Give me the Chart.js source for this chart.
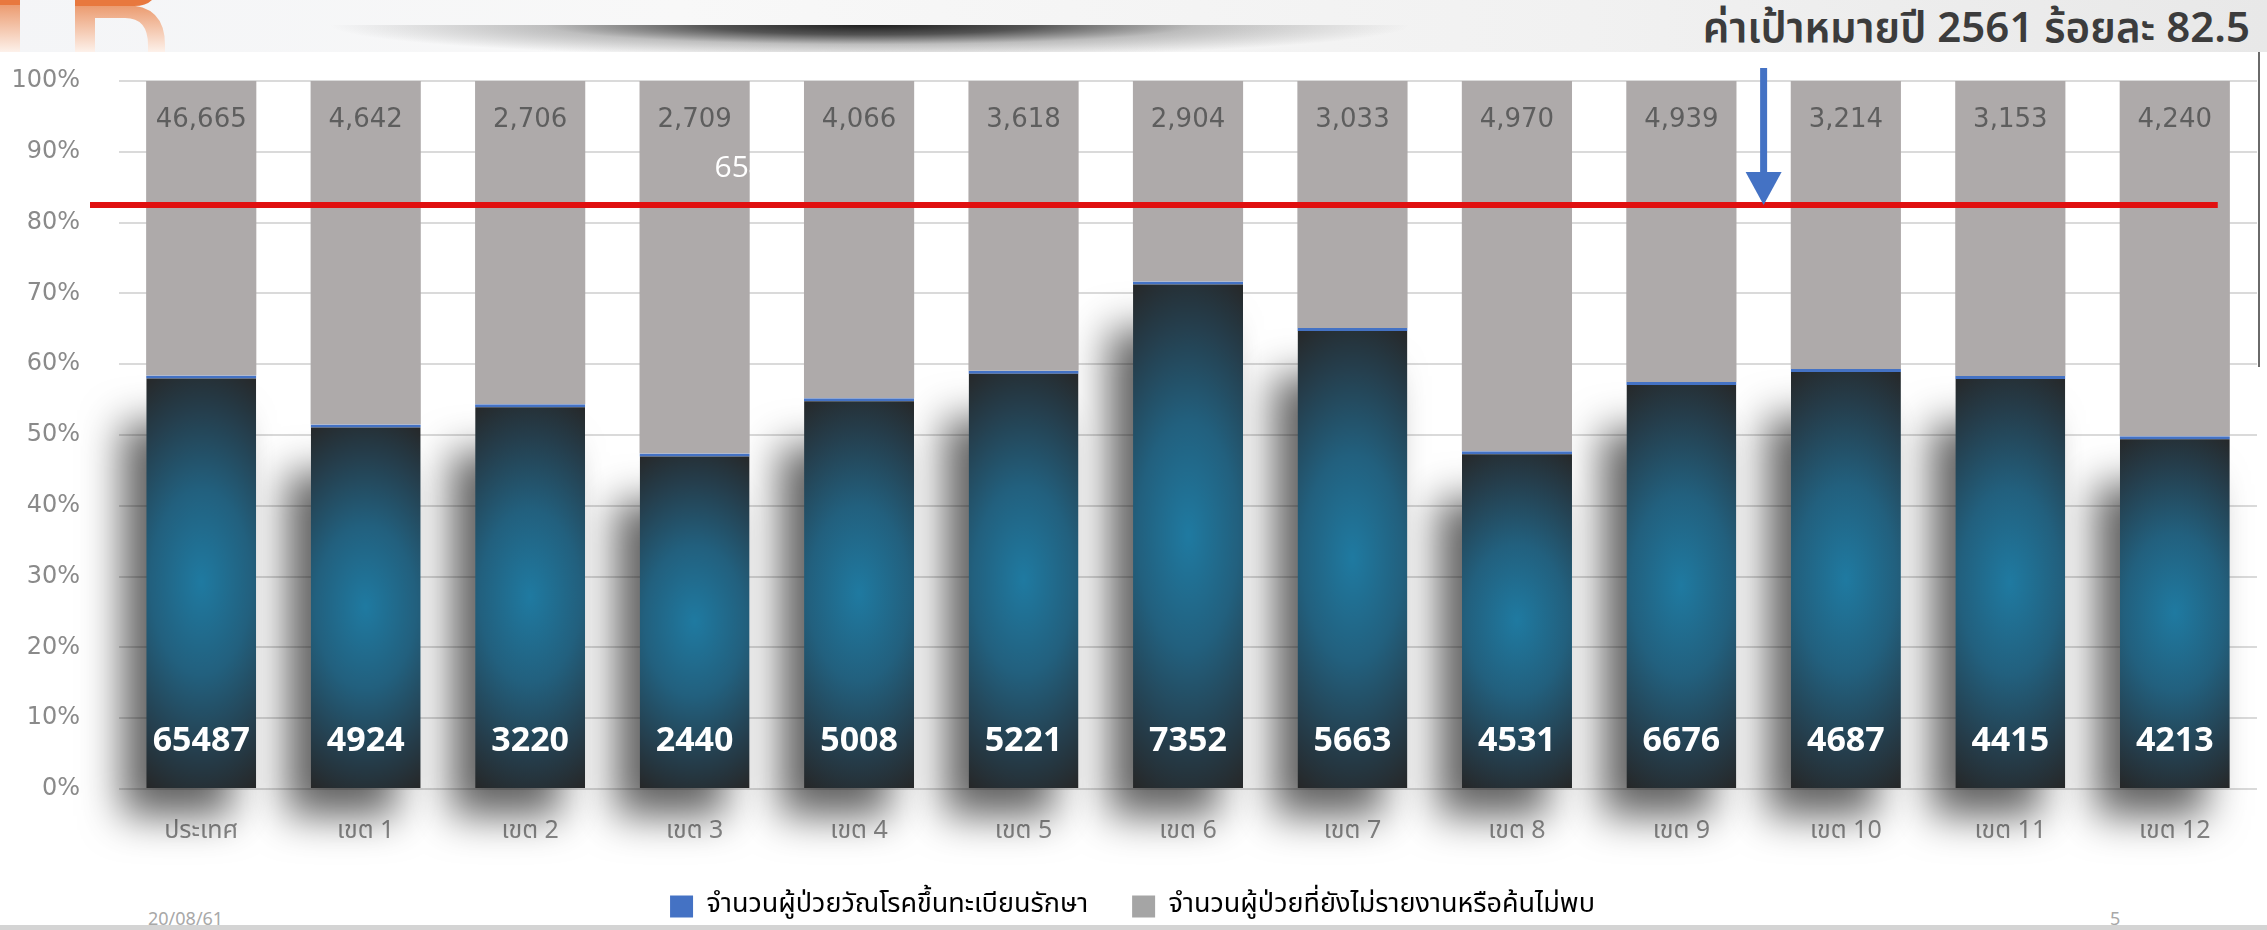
<!DOCTYPE html>
<html lang="th">
<head>
<meta charset="utf-8">
<title>ผู้ป่วยวัณโรคขึ้นทะเบียนรักษา</title>
<script src="https://cdn.jsdelivr.net/npm/chart.js@4.4.1/dist/chart.umd.min.js"></script>
<style>
  html, body { margin: 0; padding: 0; }
  body { width: 2267px; height: 930px; position: relative; overflow: hidden; background: #fff;
         font-family: 'Noto Sans Thai', 'Noto Sans', Tahoma, sans-serif; }
  #header { position: absolute; left: 0; top: 0; width: 2267px; height: 52px;
            background: linear-gradient(to right, #f4f5f7 0%, #f8f8f8 30%, #f1f1f1 70%, #e8e8e8 100%); }
  #swoosh { position: absolute; left: 330px; top: 25px; width: 1080px; height: 27px;
            background: radial-gradient(ellipse 50% 120% at 50% 0%, rgba(30,30,30,1) 0%, rgba(55,55,55,0.85) 30%, rgba(120,120,120,0.45) 60%, rgba(255,255,255,0) 100%); }
  #logo { position: absolute; left: 0; top: 0; }
  #target { position: absolute; right: 17px; top: 0; height: 58px; line-height: 58px; font-size: 42px;
            font-weight: 600; color: #3c3c3c; white-space: nowrap; }
  #cut { position: absolute; left: 1205px; top: 52px; width: 24px; height: 10px; overflow: hidden; }
  #cut span { position: absolute; left: 2px; top: -30px; font-size: 30px; line-height: 40px; font-weight: 700; color: #2d4f9e; }
  #frame { position: absolute; left: 2258px; top: 52px; width: 2px; height: 315px; background: #6a6a6a; }
  #footer { position: absolute; left: 0; top: 925px; width: 2267px; height: 5px; background: #d4d4d4; }
  .note { position: absolute; top: 906px; font-size: 18px; color: #a8a8a8; }
  #chart { position: absolute; left: 0; top: 0; }
</style>
</head>
<body>
<div id="header"></div>
<div id="swoosh"></div>
<svg id="logo" width="180" height="52">
  <defs>
    <linearGradient id="fade" x1="0" y1="0" x2="0" y2="1">
      <stop offset="0" stop-color="#eb9a6e"/>
      <stop offset="1" stop-color="#fdf1ea"/>
    </linearGradient>
  </defs>
  <rect x="0" y="4" width="20" height="48" fill="url(#fade)"/>
  <rect x="0" y="0" width="20" height="5" fill="#e8783e"/>
  <path d="M75 5 H125 Q165 5 165 45 V52 H148 V45 Q148 18 125 18 H95 V52 H75 Z" fill="url(#fade)"/>
  <path d="M75 0 H152 Q146 6 134 6 H75 Z" fill="#e8783e"/>
</svg>
<div id="target">ค่าเป้าหมายปี 2561 ร้อยละ 82.5</div>
<div id="cut"><span>ข</span></div>
<div id="frame"></div>
<div class="note" style="left:148px">20/08/61</div>
<div class="note" style="left:2110px">5</div>
<div id="footer"></div>
<canvas id="chart" width="2267" height="930"></canvas>

<script>
// เขตสุขภาพ
const regions = ['ประเทศ', 'เขต 1', 'เขต 2', 'เขต 3', 'เขต 4', 'เขต 5', 'เขต 6',
                 'เขต 7', 'เขต 8', 'เขต 9', 'เขต 10', 'เขต 11', 'เขต 12'];
// ผู้ป่วยขึ้นทะเบียนรักษา
const registered = [65487, 4924, 3220, 2440, 5008, 5221, 7352, 5663, 4531, 6676, 4687, 4415, 4213];
// ผู้ป่วยที่ยังไม่รายงานหรือค้นไม่พบ
const notFound = [46665, 4642, 2706, 2709, 4066, 3618, 2904, 3033, 4970, 4939, 3214, 3153, 4240];
const seriesNames = ['จำนวนผู้ป่วยวัณโรคขึ้นทะเบียนรักษา', 'จำนวนผู้ป่วยที่ยังไม่รายงานหรือค้นไม่พบ'];
const legendColors = ['#4472c4', '#a5a5a5'];
const TARGET = 82.5;   // ร้อยละ
const strayLabel = '65487';

// 100% stacked: share of each group per region
const totals = registered.map((v, i) => v + notFound[i]);
const registeredPct = registered.map((v, i) => v / totals[i] * 100);
const notFoundPct = notFound.map((v, i) => v / totals[i] * 100);

const thaiFont = "'Noto Sans Thai', 'Noto Sans', Tahoma, sans-serif";

// elliptical blue glow, painted once per bar and used as a pattern
function barGlow(c) {
    const chart = c.chart;
    if (!chart.chartArea || c.type !== 'data') return '#24566e';
    const xs = chart.scales.x, ys = chart.scales.y;
    const w = Math.max(1, Math.round(xs.getPixelForValue(1) - xs.getPixelForValue(0)) * 0.67);
    const left = xs.getPixelForValue(c.dataIndex) - w / 2;
    const top = ys.getPixelForValue(c.parsed.y);
    const h = Math.max(1, ys.getPixelForValue(0) - top);

    const off = document.createElement('canvas');
    off.width = Math.ceil(w);
    off.height = Math.ceil(h);
    const o = off.getContext('2d');
    o.fillStyle = '#262626';
    o.fillRect(0, 0, off.width, off.height);
    o.translate(w / 2, h / 2);
    o.scale(w * 1.15, h * 0.56);
    const g = o.createRadialGradient(0, 0, 0, 0, 0, 1);
    g.addColorStop(0, '#1f7aa1');
    g.addColorStop(0.4, '#22607e');
    g.addColorStop(0.75, '#253d4b');
    g.addColorStop(1, '#262626');
    o.fillStyle = g;
    o.fillRect(-1, -1, 2, 2);

    const p = chart.ctx.createPattern(off, 'no-repeat');
    p.setTransform(new DOMMatrix([1, 0, 0, 1, left, top]));
    return p;
}

// soft drop shadow to the lower left of the registered bars
const barShadow = {
    id: 'barShadow',
    beforeDatasetsDraw(chart) {
        const ctx = chart.ctx;
        const far = 10000;
        chart.getDatasetMeta(0).data.forEach(bar => {
            const {x, y, base, width} = bar.getProps(['x', 'y', 'base', 'width'], true);
            ctx.save();
            ctx.shadowColor = 'rgba(0,0,0,0.62)';
            ctx.shadowBlur = 40;
            ctx.shadowOffsetX = far - 24;
            ctx.shadowOffsetY = 28;
            ctx.fillStyle = '#000';
            ctx.fillRect(x - width / 2 - far, y + 20, width, base - y - 20);
            ctx.restore();
        });
    }
};

const overlays = {
    id: 'overlays',
    afterDatasetsDraw(chart) {
        const ctx = chart.ctx;
        const xs = chart.scales.x, ys = chart.scales.y;
        const area = chart.chartArea;

        // counts inside the bars
        ctx.save();
        ctx.textAlign = 'center';
        ctx.textBaseline = 'middle';
        ctx.font = "26px 'DejaVu Sans'";
        ctx.fillStyle = '#5e5e5e';
        notFound.forEach((v, i) => {
            ctx.fillText(v.toLocaleString('en-US'), xs.getPixelForValue(i), ys.getPixelForValue(100) + 39);
        });
        ctx.font = "bold 34px 'Open Sans'";
        ctx.fillStyle = '#ffffff';
        registered.forEach((v, i) => {
            ctx.fillText(String(v), xs.getPixelForValue(i), ys.getPixelForValue(0) - 48);
        });
        ctx.textAlign = 'left';
        ctx.font = "30px 'Open Sans'";
        ctx.fillText(strayLabel, xs.getPixelForValue(3) + 20, ys.getPixelForValue(87.6));
        ctx.restore();

        // target line
        const ty = ys.getPixelForValue(TARGET);
        ctx.save();
        ctx.strokeStyle = '#e01010';
        ctx.lineWidth = 6;
        ctx.beginPath();
        ctx.moveTo(area.left - 29, ty);
        ctx.lineTo(xs.getPixelForValue(regions.length - 1) + 43, ty);
        ctx.stroke();

        // arrow pointing at the target
        const ax = (xs.getPixelForValue(9) + xs.getPixelForValue(10)) / 2;
        const headH = 33, headW = 36;
        ctx.fillStyle = '#4472c4';
        ctx.fillRect(ax - 3.5, area.top - 13, 7, ty - headH - (area.top - 13) + 2);
        ctx.beginPath();
        ctx.moveTo(ax - headW / 2, ty - headH);
        ctx.lineTo(ax + headW / 2, ty - headH);
        ctx.lineTo(ax, ty);
        ctx.closePath();
        ctx.fill();
        ctx.restore();
    }
};

new Chart(document.getElementById('chart'), {
    type: 'bar',
    data: {
        labels: regions,
        datasets: [{
            label: seriesNames[0],
            data: registeredPct,
            backgroundColor: barGlow,
            borderColor: '#4472c4',
            borderWidth: {top: 3, right: 0, bottom: 0, left: 0},
            borderSkipped: false,
            barPercentage: 0.67,
            categoryPercentage: 1
        }, {
            label: seriesNames[1],
            data: notFoundPct,
            backgroundColor: '#aeaaaa',
            barPercentage: 0.67,
            categoryPercentage: 1
        }]
    },
    options: {
        responsive: false,
        animation: false,
        layout: {padding: {top: 81, left: 8, right: 10, bottom: 0}},
        plugins: {
            legend: {
                position: 'bottom',
                labels: {
                    boxWidth: 23,
                    boxHeight: 22,
                    padding: 44,
                    color: '#595959',
                    font: {family: thaiFont, size: 27},
                    generateLabels: chart => chart.data.datasets.map((ds, i) => ({
                        text: ds.label,
                        fillStyle: legendColors[i],
                        strokeStyle: legendColors[i],
                        lineWidth: 0,
                        hidden: false,
                        datasetIndex: i
                    }))
                }
            },
            tooltip: {enabled: false}
        },
        scales: {
            x: {
                stacked: true,
                grid: {display: false, drawTicks: false},
                border: {display: false},
                ticks: {color: '#8a8a8a', font: {family: thaiFont, size: 25}, padding: 29},
                afterFit: s => { s.height = 60; }
            },
            y: {
                stacked: true,
                min: 0,
                max: 100,
                grid: {color: '#dadada', lineWidth: 2, drawTicks: false},
                border: {display: false},
                ticks: {
                    stepSize: 10,
                    padding: 39,
                    color: '#8a8a8a',
                    font: {family: 'DejaVu Sans', size: 24},
                    callback: v => v + '%'
                },
                afterFit: s => { s.width = 111; }
            }
        }
    },
    plugins: [barShadow, overlays]
});
</script>
</body>
</html>
